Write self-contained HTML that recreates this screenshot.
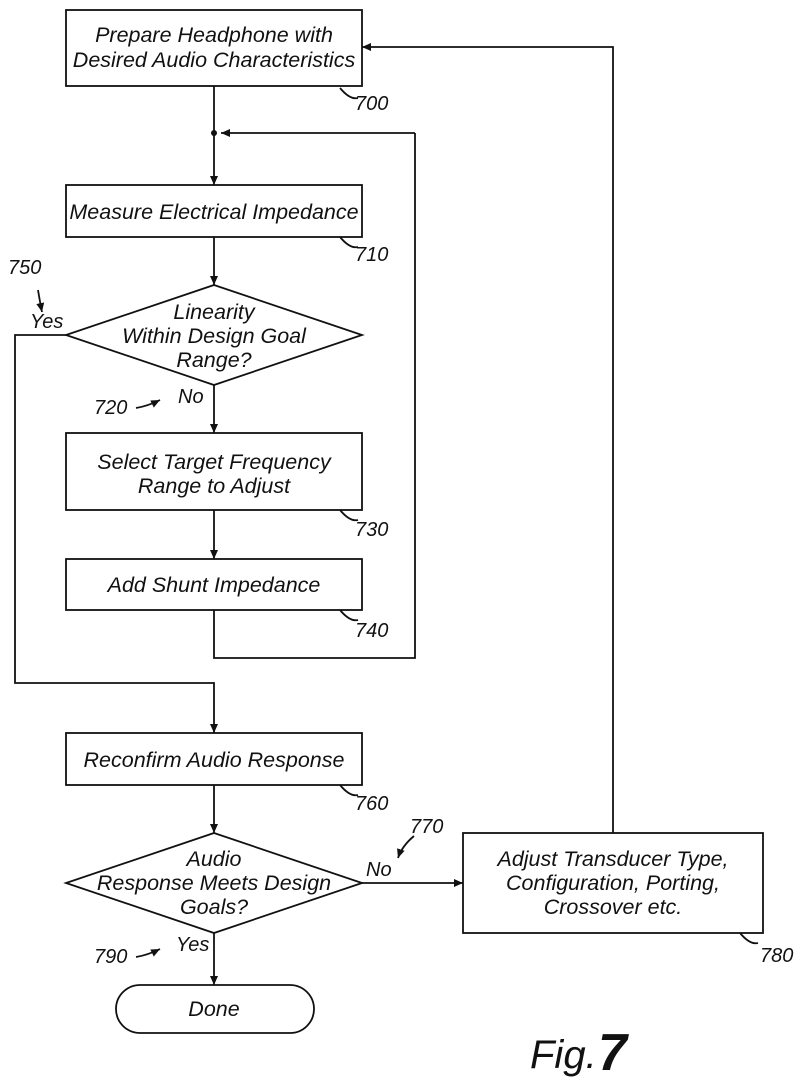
<!DOCTYPE html>
<html><head><meta charset="utf-8"><style>
html,body{margin:0;padding:0;background:#fff;}
svg{display:block;}
text{font-family:"Liberation Sans",sans-serif;font-style:italic;fill:#111;}
</style></head><body>
<svg width="800" height="1092" viewBox="0 0 800 1092" xmlns="http://www.w3.org/2000/svg">
<defs><marker id="a" markerWidth="10" markerHeight="10" refX="9" refY="5" orient="auto" markerUnits="userSpaceOnUse"><path d="M0,1 L9,5 L0,9 Z" fill="#111"/></marker></defs>
<g fill="none" stroke="#111" stroke-width="1.8">
<rect x="66" y="10" width="296" height="76"/>
<rect x="66" y="185" width="296" height="52"/>
<polygon points="214,285 362,335 214,385 66,335"/>
<rect x="66" y="433" width="296" height="77"/>
<rect x="66" y="559" width="296" height="51"/>
<rect x="66" y="733" width="296" height="52"/>
<polygon points="214,833 362,883 214,933 66,883"/>
<rect x="463" y="833" width="300" height="100"/>
<rect x="116" y="985" width="198" height="48" rx="24"/>
<line x1="214" y1="86" x2="214" y2="185" marker-end="url(#a)"/>
<polyline points="415,133 221,133" marker-end="url(#a)"/>
<line x1="214" y1="237" x2="214" y2="285" marker-end="url(#a)"/>
<line x1="214" y1="385" x2="214" y2="433" marker-end="url(#a)"/>
<line x1="214" y1="510" x2="214" y2="559" marker-end="url(#a)"/>
<polyline points="214,610 214,658 415,658 415,133"/>
<polyline points="66,335 15,335 15,683 214,683 214,733" marker-end="url(#a)"/>
<line x1="214" y1="785" x2="214" y2="833" marker-end="url(#a)"/>
<line x1="362" y1="883" x2="463" y2="883" marker-end="url(#a)"/>
<polyline points="613,833 613,47 362,47" marker-end="url(#a)"/>
<line x1="214" y1="933" x2="214" y2="985" marker-end="url(#a)"/>
<path d="M340,88 q10,12 18,10"/><path d="M340,237 q10,12 18,10"/><path d="M340,510 q10,12 18,10"/>
<path d="M340,610 q10,12 18,10"/><path d="M340,785 q10,12 18,10"/><path d="M740,933 q10,12 18,10"/>
<path d="M38,290 q2,12 4,22" marker-end="url(#a)"/>
<path d="M136,408 q12,-2 24,-8" marker-end="url(#a)"/>
<path d="M414,836 q-12,10 -16,22" marker-end="url(#a)"/>
<path d="M136,957 q12,-2 24,-8" marker-end="url(#a)"/>
</g>
<circle cx="214" cy="133" r="3" fill="#111"/>
<g font-size="21.5" text-anchor="middle">
<text x="214" y="42">Prepare Headphone with</text>
<text x="214" y="67">Desired Audio Characteristics</text>
<text x="214" y="219">Measure Electrical Impedance</text>
<text x="214" y="319">Linearity</text>
<text x="214" y="343">Within Design Goal</text>
<text x="214" y="367">Range?</text>
<text x="214" y="469">Select Target Frequency</text>
<text x="214" y="493">Range to Adjust</text>
<text x="214" y="592">Add Shunt Impedance</text>
<text x="214" y="767">Reconfirm Audio Response</text>
<text x="214" y="866">Audio</text>
<text x="214" y="890">Response Meets Design</text>
<text x="214" y="914">Goals?</text>
<text x="613" y="866">Adjust Transducer Type,</text>
<text x="613" y="890">Configuration, Porting,</text>
<text x="613" y="914">Crossover etc.</text>
<text x="214" y="1016">Done</text>
</g>
<g font-size="20">
<text x="355" y="110">700</text><text x="355" y="261">710</text><text x="355" y="536">730</text>
<text x="355" y="637">740</text><text x="355" y="810">760</text><text x="760" y="962">780</text>
<text x="8" y="274">750</text><text x="30" y="328">Yes</text>
<text x="94" y="414">720</text><text x="178" y="403">No</text>
<text x="410" y="833">770</text><text x="366" y="876">No</text>
<text x="94" y="963">790</text><text x="176" y="951">Yes</text>
</g>
<text x="530" y="1068" font-family="Liberation Serif,serif" font-size="40">Fig.</text>
<text x="598" y="1070" font-family="Liberation Serif,serif" font-size="52" font-style="normal" font-weight="bold">7</text>
</svg>
</body></html>
